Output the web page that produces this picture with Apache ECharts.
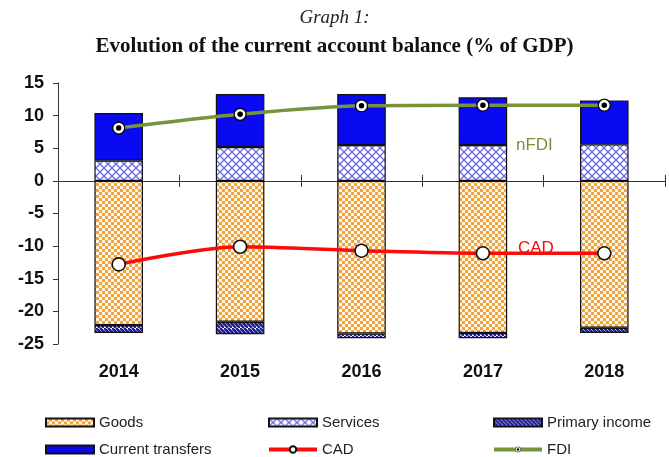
<!DOCTYPE html>
<html>
<head>
<meta charset="utf-8">
<script src="https://cdn.jsdelivr.net/npm/echarts@6/dist/echarts.min.js"></script>
<style>
html,body{margin:0;padding:0;background:#fff;}
#c{width:669px;height:457px;}
</style>
</head>
<body>
<div id="c"></div>
<script>
const years = ['2014', '2015', '2016', '2017', '2018'];
const goods = [-22.1, -21.6, -23.4, -23.3, -22.5];
const services = [3.1, 5.2, 5.5, 5.5, 5.6];
const primaryIncome = [-1.2, -1.9, -0.7, -0.8, -0.8];
const currentTransfers = [7.3, 8.1, 7.8, 7.3, 6.7];
const cad = [-12.8, -10.1, -10.7, -11.1, -11.1];
const fdi = [8.1, 10.2, 11.5, 11.6, 11.6];

function makeCanvas(w, h, draw) {
  const c = document.createElement('canvas');
  c.width = w; c.height = h;
  draw(c.getContext('2d'), w, h);
  return c;
}
const goodsPat = makeCanvas(6, 6, (g) => {
  g.fillStyle = '#F3A33C'; g.fillRect(0, 0, 6, 6);
  g.fillStyle = '#FFF6E6';
  g.fillRect(0, 0, 3, 3); g.fillRect(3, 3, 3, 3);
});
const servicesPat = makeCanvas(8, 8, (g) => {
  g.fillStyle = '#FFFFFF'; g.fillRect(0, 0, 8, 8);
  g.strokeStyle = '#6A6AE6'; g.lineWidth = 1.3;
  g.beginPath();
  g.moveTo(0, 0); g.lineTo(8, 8);
  g.moveTo(8, 0); g.lineTo(0, 8);
  g.stroke();
});
const primaryPat = makeCanvas(8, 8, (g) => {
  g.fillStyle = '#FFFFFF'; g.fillRect(0, 0, 8, 8);
  g.strokeStyle = '#1E1E9A'; g.lineWidth = 2.4;
  g.beginPath();
  g.moveTo(-4, 0); g.lineTo(4, 8);
  g.moveTo(0, 0); g.lineTo(8, 8);
  g.moveTo(4, 0); g.lineTo(12, 8);
  g.stroke();
});

const fdiSymbol = 'image://data:image/svg+xml;charset=utf-8,' + encodeURIComponent(
  '<svg xmlns="http://www.w3.org/2000/svg" width="28" height="28">' +
  '<circle cx="14" cy="14" r="12" fill="#fff" stroke="#000" stroke-width="2.5"/>' +
  '<circle cx="14" cy="14" r="5.5" fill="#000"/></svg>');

const barBase = {
  type: 'bar', stack: 'ca', barWidth: '40%', xAxisIndex: 0, yAxisIndex: 0,
  z: 2
};
const legendText = {fontFamily: 'Liberation Sans', fontSize: 15, color: '#222'};
const chart = echarts.init(document.getElementById('c'), null, {renderer: 'canvas'});
chart.setOption({
  animation: false,
  backgroundColor: '#fff',
  title: [
    {text: 'Graph 1:', left: 'center', top: 8, padding: 0,
     textStyle: {fontFamily: 'Liberation Serif', fontStyle: 'italic', fontWeight: 'normal', fontSize: 19, color: '#222'}},
    {text: 'Evolution of the current account balance (% of GDP)', left: 'center', top: 36, padding: 0,
     textStyle: {fontFamily: 'Liberation Serif', fontWeight: 'bold', fontSize: 21, color: '#111'}}
  ],
  grid: [
    {left: 58, right: 4, top: 83, bottom: 113},
    {left: 58, right: 4, top: 83, bottom: 113}
  ],
  legend: [
    {orient: 'vertical', left: 45, top: 415, padding: 0, itemGap: 12, itemWidth: 48, itemHeight: 8,
     data: [{name: 'Goods', icon: 'rect'}, {name: 'Current transfers', icon: 'rect'}], textStyle: legendText},
    {orient: 'vertical', left: 267, top: 415, padding: 0, itemGap: 12, itemWidth: 48, itemHeight: 8,
     data: [{name: 'Services', icon: 'rect'}, {name: 'CAD', lineStyle: {width: 4}}], textStyle: legendText},
    {orient: 'vertical', left: 492, top: 415, padding: 0, itemGap: 12, itemWidth: 48, itemHeight: 8,
     data: [{name: 'Primary income', icon: 'rect'}, {name: 'FDI', lineStyle: {width: 4}}], textStyle: legendText}
  ],
  xAxis: [
    {type: 'category', data: years, gridIndex: 0, position: 'top',
     axisLine: {onZero: true, onZeroAxisIndex: 0, lineStyle: {color: '#333', width: 1}},
     axisTick: {show: true, length: 6, lineStyle: {color: '#333'}},
     axisLabel: {show: false}},
    {type: 'category', data: years, gridIndex: 0, position: 'bottom',
     axisLine: {onZero: true, onZeroAxisIndex: 2, lineStyle: {color: '#333', width: 1}},
     axisTick: {show: true, length: 6, lineStyle: {color: '#333'}},
     axisLabel: {show: false}},
    {type: 'category', data: years, gridIndex: 1, position: 'bottom',
     axisLine: {show: false, onZero: false}, axisTick: {show: false},
     axisLabel: {margin: 19, fontFamily: 'Liberation Sans', fontWeight: 'bold', fontSize: 18, color: '#111'}}
  ],
  yAxis: [
    {type: 'value', gridIndex: 0, min: -25, max: 15, interval: 5,
     axisLine: {show: true, lineStyle: {color: '#333', width: 1}},
     axisTick: {show: true, length: 5, lineStyle: {color: '#333'}},
     splitLine: {show: false},
     axisLabel: {margin: 14, fontFamily: 'Liberation Sans', fontWeight: 'bold', fontSize: 18, color: '#111'}},
    {type: 'value', gridIndex: 1, min: -25, max: 15, interval: 5, show: false, splitLine: {show: false}},
    {type: 'value', gridIndex: 0, min: -25, max: 15, interval: 5, show: false, splitLine: {show: false}}
  ],
  series: [
    Object.assign({}, barBase, {name: 'Goods', data: goods,
      itemStyle: {color: {image: goodsPat, repeat: 'repeat'}, borderColor: '#111', borderWidth: 1.2}}),
    Object.assign({}, barBase, {name: 'Services', data: services,
      itemStyle: {color: {image: servicesPat, repeat: 'repeat'}, borderColor: '#111', borderWidth: 1.2}}),
    Object.assign({}, barBase, {name: 'Primary income', data: primaryIncome,
      itemStyle: {color: {image: primaryPat, repeat: 'repeat'}, borderColor: '#111', borderWidth: 1.2}}),
    Object.assign({}, barBase, {name: 'Current transfers', data: currentTransfers,
      itemStyle: {color: '#0A0AF2', borderColor: '#111', borderWidth: 1.2}}),
    {name: 'CAD', type: 'line', data: cad, xAxisIndex: 0, yAxisIndex: 0, z: 5,
     smooth: 0.3, symbol: 'circle', symbolSize: 13,
     lineStyle: {color: '#FF0A0A', width: 3.5},
     itemStyle: {color: '#fff', borderColor: '#111', borderWidth: 1.6}},
    {name: 'FDI', type: 'line', data: fdi, xAxisIndex: 0, yAxisIndex: 0, z: 5,
     smooth: 0.3, symbol: fdiSymbol, symbolSize: 14,
     lineStyle: {color: '#77933C', width: 3.5},
     itemStyle: {color: '#77933C'}}
  ],
  graphic: [
    {type: 'text', left: 516, top: 137, z: 1,
     style: {text: 'nFDI', fill: '#77933C', font: '17px "Liberation Sans"'}},
    {type: 'text', left: 518, top: 240, z: 1,
     style: {text: 'CAD', fill: '#FF0A0A', font: '17px "Liberation Sans"'}}
  ]
});
</script>
</body>
</html>
